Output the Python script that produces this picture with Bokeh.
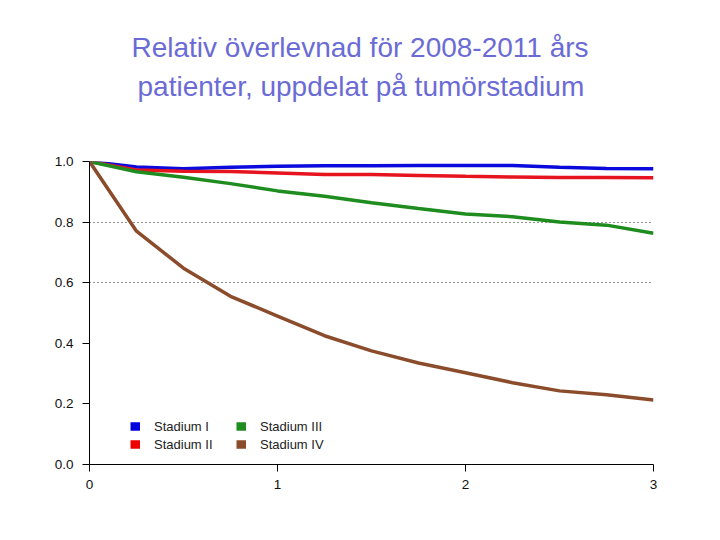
import numpy as np
from bokeh.plotting import figure
from bokeh.models import (FixedTicker, PrintfTickFormatter, Legend, LegendItem, Title)
from bokeh.embed import file_html
from bokeh.resources import INLINE

years = [0, 0.25, 0.5, 0.75, 1.0, 1.25, 1.5, 1.75, 2.0, 2.25, 2.5, 2.75, 3.0]
stadium_1 = [1.0, 0.982, 0.976, 0.981, 0.984, 0.986, 0.986, 0.987, 0.987, 0.987, 0.981, 0.977, 0.976]
stadium_2 = [1.0, 0.972, 0.968, 0.967, 0.962, 0.957, 0.957, 0.954, 0.951, 0.949, 0.947, 0.947, 0.946]
stadium_3 = [1.0, 0.966, 0.948, 0.927, 0.903, 0.885, 0.864, 0.845, 0.827, 0.818, 0.800, 0.790, 0.763]
stadium_4 = [1.0, 0.770, 0.648, 0.555, 0.490, 0.425, 0.375, 0.335, 0.303, 0.270, 0.243, 0.230, 0.213]

labels = ["Stadium I", "Stadium II", "Stadium III", "Stadium IV"]
x_ticks = [0, 1, 2, 3]
y_ticks = [0.0, 0.2, 0.4, 0.6, 0.8, 1.0]
grid_ticks = [0.6, 0.8]
title_lines = ["Relativ överlevnad för 2008-2011 års", "patienter, uppdelat på tumörstadium"]

line_colors = ["#0a0adc", "#e6141e", "#1e8c1e", "#8b4c2c"]
legend_colors = ["#0000dd", "#ee0000", "#1e8c1e", "#8b4c2c"]

FONT = "Liberation Sans"

p = figure(width=712, height=532, output_backend="svg", toolbar_location=None,
           title=None, x_range=(0, 3), y_range=(0, 1),
           min_border_left=89, min_border_right=59, min_border_top=161, min_border_bottom=68)
p.outline_line_color = None
p.background_fill_color = "white"
p.border_fill_color = "white"

# spacer between the frame and the title block
p.add_layout(Title(text=" ", text_font=FONT, text_font_size="1px", standoff=57), "above")
p.add_layout(Title(text=title_lines[1], text_font=FONT, text_font_size="28px",
                   text_font_style="normal", text_color="#6b6bd6", align="left", offset=48,
                   standoff=0), "above")
p.add_layout(Title(text=title_lines[0], text_font=FONT, text_font_size="28px",
                   text_font_style="normal", text_color="#6b6bd6", align="left", offset=42,
                   standoff=12), "above")

for ax in (p.xaxis, p.yaxis):
    ax.axis_line_color = "black"
    ax.axis_line_width = 1
    ax.major_tick_line_color = "black"
    ax.major_tick_out = 7
    ax.major_tick_in = 0
    ax.minor_tick_line_color = None
    ax.major_label_text_font = FONT
    ax.major_label_text_font_size = "13.5px"
    ax.major_label_text_color = "#111111"

p.xaxis.ticker = FixedTicker(ticks=x_ticks)
p.xaxis.major_label_standoff = 8
p.yaxis.ticker = FixedTicker(ticks=y_ticks)
p.yaxis.formatter = PrintfTickFormatter(format="%.1f")
p.yaxis.major_label_standoff = 9

p.xgrid.grid_line_color = None
p.ygrid.ticker = FixedTicker(ticks=grid_ticks)
p.ygrid.grid_line_color = "#222222"
p.ygrid.grid_line_dash = "1 3"
p.ygrid.grid_line_width = 1

series = [stadium_1, stadium_2, stadium_3, stadium_4]
for ys, c in zip(series, line_colors):
    p.line(years, ys, line_color=c, line_width=3.5)

# legend proxies (draw nothing in the plot, only the legend swatch)
proxies = []
for c in legend_colors:
    r = p.line(x=np.array([np.nan]), y=np.array([np.nan]), line_color=c, line_width=8.5)
    proxies.append(r)

def make_legend(idx, loc):
    lg = Legend(items=[LegendItem(label=labels[i], renderers=[proxies[i]]) for i in idx],
                location=loc, padding=0, margin=0, spacing=2,
                glyph_width=10, glyph_height=16, label_height=16, label_standoff=14,
                background_fill_alpha=0, border_line_color=None,
                label_text_font=FONT, label_text_font_size="13px", label_text_color="#222222")
    return lg

p.add_layout(make_legend([0, 1], (41, 12)))
p.add_layout(make_legend([2, 3], (147, 12)))

open("out.html", "w").write(file_html(p, INLINE))
